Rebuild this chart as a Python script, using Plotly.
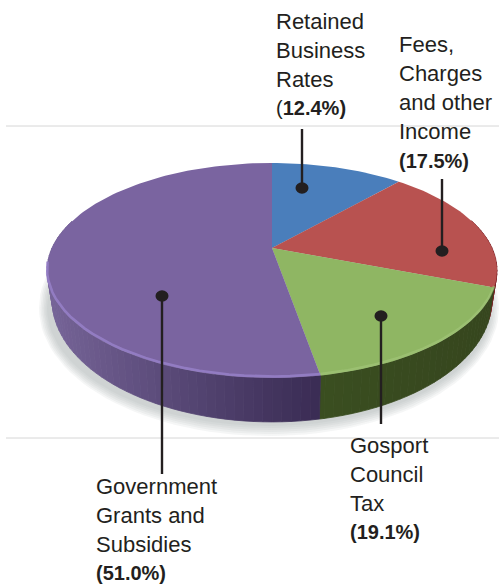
import math
import plotly.graph_objects as go

# Wedge shares as drawn in the picture (clockwise from 12 o'clock), and labels as printed
slices = ["Retained Business Rates", "Fees, Charges and other Income", "Gosport Council Tax", "Government Grants and Subsidies"]
drawn_share = [11.6, 19.2, 16.4, 52.8]
printed_share = [12.4, 17.5, 19.1, 51.0]
top_colors = ["#4a7ebb", "#b85250", "#8fb663", "#7a64a0"]
label_lines = [
    ["Retained", "Business", "Rates"],
    ["Fees,", "Charges", "and other", "Income"],
    ["Gosport", "Council", "Tax"],
    ["Government", "Grants and", "Subsidies"],
]

INK = "#231f20"
K = 0.209
CX = 272

def top_pt(a):
    u, v = math.sin(a), math.cos(a)
    d = 1 + K * v
    return CX + 220 * u / d, 248 - 102.8 * v / d

def bot_pt(a):
    u, v = math.sin(a), math.cos(a)
    d = 1 + K * v
    return CX + 215 * u / d, 274.5 - 116.6 * v / d

def mix(c1, c2, t):
    return "rgb(%d,%d,%d)" % tuple(round(a + (b - a) * t) for a, b in zip(c1, c2))

fig = go.Figure()

def poly(xs, ys, fill, line=None, w=0.0):
    fig.add_trace(go.Scatter(x=xs, y=ys, mode="lines", fill="toself", fillcolor=fill,
                             line=dict(color=line or "rgba(0,0,0,0)", width=w),
                             hoverinfo="skip", showlegend=False))

# grid rules
for gy, x0 in [(126, 6), (438, 6)]:
    fig.add_shape(type="line", x0=x0, x1=499, y0=gy, y1=gy, line=dict(color="#d6d6d6", width=1), layer="below")

# soft shadow under the disc
angs = [2 * math.pi * i / 120 for i in range(121)]
for grow in [10, 8, 6, 4, 2, 0]:
    xs = [CX - 3 + (222 + grow * 0.8) * math.sin(a) for a in angs]
    ys = [308 + (118 + grow) * -math.cos(a) for a in angs]
    poly(xs, ys, "rgba(160,170,165,0.10)")

# slice boundaries in radians
total = sum(drawn_share)
bounds = [0.0]
for s in drawn_share:
    bounds.append(bounds[-1] + 2 * math.pi * s / total)

# side wall
step = math.radians(2)
for i in range(4):
    a = bounds[i]
    while a < bounds[i + 1] - 1e-6:
        b = min(a + step, bounds[i + 1])
        if math.cos(a) < 0.25 or math.cos(b) < 0.25:
            p1, p2 = top_pt(a), top_pt(b)
            q1, q2 = bot_pt(a), bot_pt(b)
            xm = (p1[0] + p2[0]) / 2
            if i == 3:
                t = min(1, max(0, (322 - xm) / 275))
                col = mix((58, 44, 84), (118, 100, 152), t ** 1.1)
            elif i == 2:
                t = min(1, max(0, (xm - 322) / 170))
                col = mix((58, 78, 32), (54, 70, 30), t)
            else:
                col = "rgb(125,35,40)"
            poly([p1[0], p2[0], q2[0], q1[0], p1[0]], [p1[1], p2[1], q2[1], q1[1], p1[1]], col, col, 0.8)
        a = b

# top face wedges
for i in range(4):
    n = max(8, int((bounds[i + 1] - bounds[i]) / math.radians(1.5)))
    pts = [top_pt(bounds[i] + (bounds[i + 1] - bounds[i]) * j / n) for j in range(n + 1)]
    xs = [CX] + [p[0] for p in pts] + [CX]
    ys = [248] + [p[1] for p in pts] + [248]
    poly(xs, ys, top_colors[i])

# bevel highlight along the front rim
rim = {3: ("rgba(150,128,200,0.85)", 2.6), 2: ("rgba(165,200,125,0.55)", 2.6)}
for i, (col, w) in rim.items():
    start = bounds[i]
    end = bounds[i + 1]
    n = 60
    pts = [start + (end - start) * j / n for j in range(n + 1)]
    pts = [a for a in pts if math.cos(a) < -0.1]
    xy = [top_pt(a) for a in pts]
    fig.add_trace(go.Scatter(x=[p[0] for p in xy], y=[p[1] - 1.5 for p in xy], mode="lines",
                             line=dict(color=col, width=w), hoverinfo="skip", showlegend=False))

# leaders and dots
for x, y0, y1, dot in [(302, 129, 188, 188), (442, 179, 251, 251), (381, 316, 424, 316), (162, 296, 474, 296)]:
    fig.add_shape(type="line", x0=x, x1=x, y0=y0, y1=y1, line=dict(color=INK, width=2.4))
    fig.add_shape(type="circle", x0=x - 6.5, x1=x + 6.5, y0=dot - 5.7, y1=dot + 5.7,
                  fillcolor=INK, line=dict(width=0))

# labels, one annotation per printed line
placements = [(276, 21), (399, 44), (350, 445), (96, 486)]
steps = [29, 29.2, 29, 29]
for i, lines in enumerate(label_lines):
    x, y = placements[i]
    for j, t in enumerate(lines):
        fig.add_annotation(x=x, y=y + j * steps[i], text=t, showarrow=False, xanchor="left", yanchor="middle",
                           xshift=-2, font=dict(family="Liberation Sans", size=22, color=INK))
    pct = "%.1f%%" % printed_share[i]
    txt = "(<b>%s)</b>" % pct if i == 0 else "<b>(%s)</b>" % pct
    fig.add_annotation(x=x, y=y + len(lines) * steps[i], text=txt, showarrow=False, xanchor="left", yanchor="middle",
                       xshift=-2, font=dict(family="Liberation Sans", size=20, color=INK))

fig.update_layout(
    width=499, height=584, margin=dict(l=0, r=0, t=0, b=0),
    paper_bgcolor="white", plot_bgcolor="white", showlegend=False,
    xaxis=dict(range=[0, 499], visible=False, fixedrange=True),
    yaxis=dict(range=[584, 0], visible=False, fixedrange=True),
)
fig.write_html("out.html", config={"displayModeBar": False}, post_script="document.body.style.margin='0';")
